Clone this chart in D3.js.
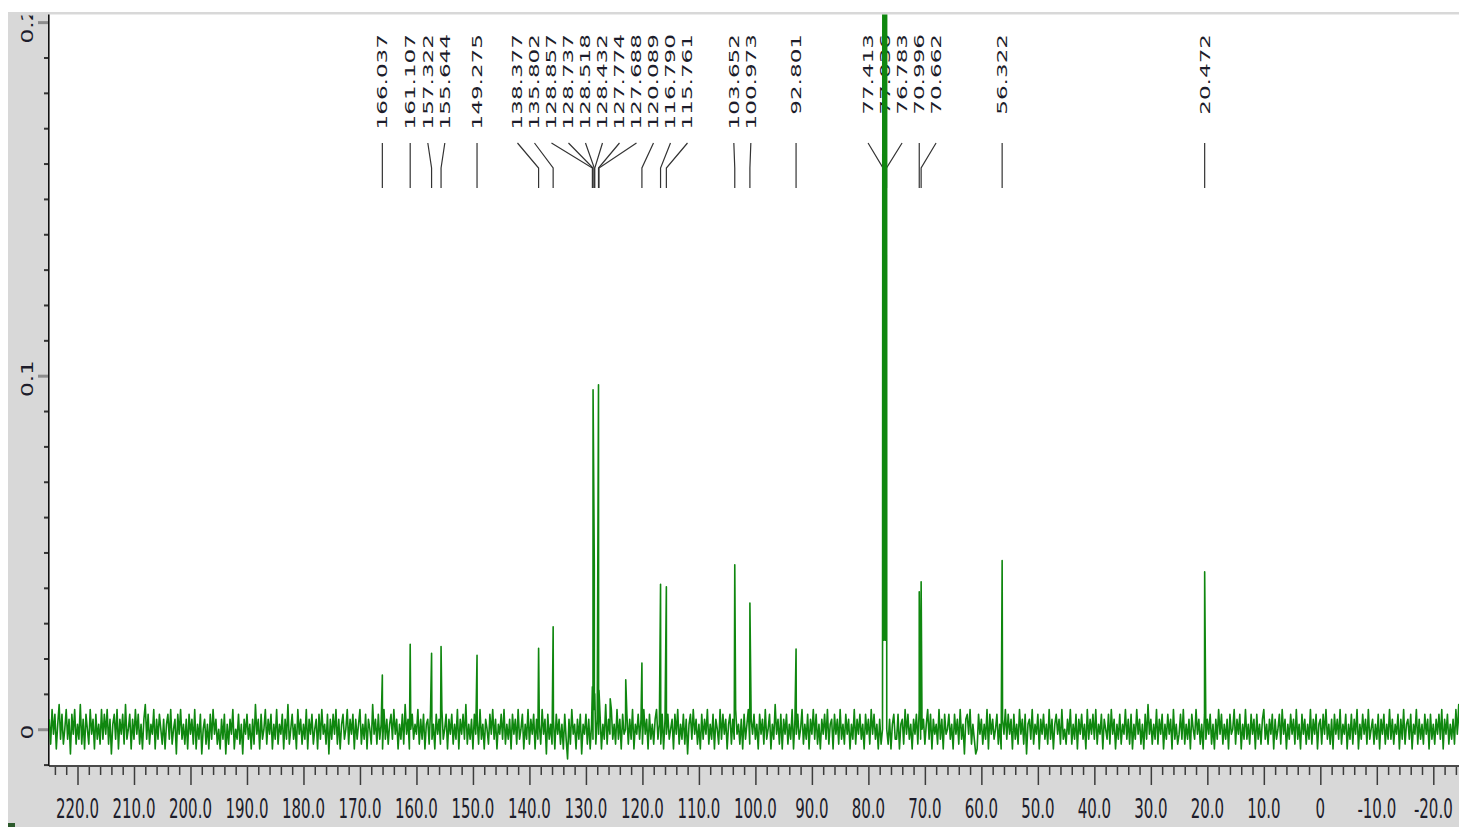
<!DOCTYPE html>
<html>
<head>
<meta charset="utf-8">
<script src="https://cdn.jsdelivr.net/npm/d3@7"></script>
<style>
  html, body { margin: 0; padding: 0; background: #ffffff; }
  svg { display: block; }
</style>
</head>
<body>
<svg id="chart" width="1459" height="827"></svg>
<script>
// 13C NMR trace, sampled every 0.25 ppm from 225 ppm downwards, stored as integer counts
const traceStart = 225.0;
const traceStep = 0.25;
const traceUnit = 0.0014; // intensity per count

// 225 -> 175.25 ppm
const trace225 = [
  2,-3,4,-1,3,-4,1,5,-2,3,-3,0,4,-2,2,-5,3,-1,4,-3,
  1,-2,5,-3,2,-4,3,0,-3,4,-1,2,-4,3,-2,1,-3,4,-2,3,
  -1,4,-3,2,-5,1,3,-2,4,-4,2,-1,3,-3,5,-2,0,3,-4,2,
  -2,4,-1,3,-3,1,-4,2,5,-2,3,-3,1,-1,4,-4,2,-2,3,0,
  -3,2,-4,1,3,-2,4,-3,0,2,-5,3,-1,4,-2,1,-3,2,-4,3,
  -1,2,-3,4,-4,1,-2,3,-5,0,2,-3,1,-4,3,-2,4,-1,2,-3,
  0,-4,2,-2,3,-5,1,-3,2,-1,4,-4,0,-2,3,-3,1,-5,2,-1,
  3,-2,1,-4,2,-3,5,-1,2,-4,3,-2,0,4,-3,2,-1,3,-4,1,
  -2,4,-3,1,-1,3,-4,2,-2,5,-3,0,3,-2,1,-4,4,-1,2,-3,
  1,-2,4,-4,2,-1,3,-3,0,2,-4,3,-2,4,-1,1,-3,3,-5,2
];
// 175 -> 125.25 ppm
const trace175 = [
  -2,3,-1,4,-3,2,-4,1,3,-2,0,4,-3,2,-1,3,-4,2,-2,1,
  4,-3,1,-2,3,-4,2,0,-3,5,-1,2,-3,3,-2,1,-4,4,-2,2,
  -3,1,3,-2,4,-1,2,-4,1,-2,3,-3,5,-1,2,-4,0,3,-2,1,
  -1,4,-3,2,-2,3,-4,1,2,-3,4,-2,1,-4,3,-1,2,-3,4,-2,
  0,3,-4,2,-1,3,-3,1,-2,4,-4,2,-1,3,-2,5,-3,1,-2,2,
  -4,3,-1,2,-3,4,-2,1,-4,2,0,-3,3,-1,4,-2,2,-4,1,-1,
  3,-2,4,-3,1,-2,2,-4,3,-1,2,-3,4,-2,0,3,-4,1,-2,4,
  -3,2,-1,3,-4,2,-2,1,-3,4,-1,2,-5,3,-2,1,-3,2,-4,3,
  -1,2,-3,1,-4,3,-2,-6,2,-3,4,-1,1,-4,2,-2,3,-5,1,-1,
  3,-3,2,-4,1,-2,4,-3,2,-1,3,-4,1,-2,5,-3,2,-1,4,-2
];
// 125 -> 75.25 ppm (CDCl3 triplet valleys near 77 ppm)
const trace125 = [
  1,-3,4,-2,2,-4,3,-1,0,3,-3,2,-2,4,-4,1,-1,3,-2,2,
  -3,4,-1,2,-4,3,-2,1,-3,2,4,-2,1,-3,3,-4,2,-1,3,-2,
  0,2,-4,3,-1,4,-3,1,-2,3,-3,2,-5,1,3,-2,4,-1,2,-3,
  1,-4,3,-2,2,-1,4,-3,1,-2,3,-4,2,0,-3,4,-2,3,-1,2,
  -4,1,3,-3,2,-2,4,-1,1,-3,2,-4,3,-2,1,4,-3,2,-1,3,
  -2,1,-4,3,-1,2,-3,4,-2,0,3,-4,1,-2,5,-1,2,-3,3,-4,
  2,-1,3,-3,1,-2,4,-4,2,-1,3,-2,0,4,-3,1,-2,3,-4,2,
  -1,4,-2,3,-3,1,-4,2,-1,3,-2,4,-3,1,2,-4,3,-1,2,-3,
  4,-2,1,-3,3,-1,2,-4,1,-2,4,-3,2,-1,3,-2,1,-4,3,-1,
  2,-3,4,-1,3,-2,1,-4,2,-3,0,18,18,0,-3,2,-4,1,3,-2
];
// 75 -> 25.25 ppm
const trace75 = [
  -2,3,-4,1,2,-3,4,-1,3,-2,1,-4,2,-1,3,-3,4,-2,0,2,
  -3,1,4,-2,3,-4,2,-1,1,-3,4,-2,2,-4,3,-1,0,3,-2,1,
  -4,3,-1,2,-3,4,-2,1,-5,2,3,-1,4,-3,1,-2,-5,-4,3,-1,
  2,-3,1,-2,4,-4,3,-1,2,-2,0,3,-3,1,-4,2,-1,4,-2,3,
  -1,2,-4,3,-2,1,-3,4,-1,2,-3,3,-5,1,2,-2,4,-3,1,-1,
  3,-4,2,-1,3,-2,1,-3,4,-2,2,-4,1,3,-1,2,-3,4,-2,0,
  -3,2,-1,4,-3,1,-2,3,-4,2,-1,3,-2,1,-4,4,-2,2,-1,3,
  -2,4,-3,1,-1,3,-4,2,0,-2,3,-3,4,-1,2,-4,1,-2,3,-3,
  1,-1,4,-2,2,-3,3,-4,1,-2,4,-1,2,-3,1,-4,3,-2,5,-1,
  2,-3,1,-2,4,-3,2,-1,3,-4,1,-2,3,-1,2,-4,4,-2,1,-3
];
// 25 -> -24.75 ppm
const trace25 = [
  -1,3,-2,4,-3,1,-2,2,-4,3,0,-2,4,-1,2,-3,1,-4,3,-2,
  2,-1,3,-3,1,-4,2,-2,4,-1,3,-3,1,-2,2,-4,3,-1,0,4,
  -3,2,-1,3,-4,1,-2,4,-2,1,-3,3,-1,2,-4,3,-2,1,-3,2,
  4,-2,1,-3,2,-1,3,-4,2,-2,0,3,-3,4,-1,2,-4,1,-2,3,
  -1,2,-3,4,-2,1,-4,3,-1,2,-3,1,-2,4,-3,2,-1,3,-4,1,
  2,-3,3,-1,4,-2,1,-3,2,-4,3,-1,2,-2,4,-3,1,-1,3,-4,
  1,-2,3,-3,2,-1,4,-4,1,-2,3,-1,2,-3,4,-2,0,2,-3,1,
  -2,3,-4,2,-1,3,-3,1,-2,4,-2,2,-3,1,-1,3,-4,2,-2,4,
  -3,1,2,-2,3,-4,1,-1,4,-3,2,-2,1,-3,3,-1,2,-4,3,-2,
  1,-3,2,-1,3,-2,4,-4,2,-1,3,-3,1,-2,2,-3,4,-1,5,-2
];

// Picked peaks (ppm) and their intensities
const labelPpm = [166.037, 161.107, 157.322, 155.644, 149.275, 138.377, 135.802,
  128.857, 128.737, 128.518, 128.432, 127.774, 127.688, 120.089, 116.790, 115.761,
  103.652, 100.973, 92.801, 77.413, 77.036, 76.783, 70.996, 70.662, 56.322, 20.472];
const labelVal = [0.0153, 0.0240, 0.0215, 0.0234, 0.0209, 0.0229, 0.0290,
  0.0120, 0.0960, 0.0465, 0.0100, 0.0974, 0.0110, 0.0187, 0.0410, 0.0403,
  0.0465, 0.0357, 0.0227, 0.3000, 0.3000, 0.3000, 0.0389, 0.0417, 0.0477, 0.0445];

// Small peaks that carry no label
const minorPeakPpm = [125.70, 122.95];
const minorPeakVal = [0.0086, 0.0140];

// Axis ticks
const xMajorTicks = [220, 210, 200, 190, 180, 170, 160, 150, 140, 130, 120, 110,
  100, 90, 80, 70, 60, 50, 40, 30, 20, 10, 0, -10, -20];
const yMajorTicks = [0, 0.1, 0.2];
const yTickText = ["0", "0.1", "0.2"];

const svg = d3.select("#chart");
const W = 1459, H = 827;
const plot = { left: 49, right: 1459, top: 14.5, bottom: 766 };
const green = "#0f870f";
const font = "'DejaVu Sans', Verdana, sans-serif";

const x = d3.scaleLinear().domain([220, -20]).range([77.5, 1433.3]);
const y = d3.scaleLinear().domain([-0.0104, 0.2023]).range([766, 14]);

// frame
svg.append("rect").attr("x", 0).attr("y", 0).attr("width", W).attr("height", H).attr("fill", "#ffffff");
svg.append("rect").attr("x", 8).attr("y", 12).attr("width", W - 8).attr("height", H - 12).attr("fill", "#d8d8d8");
svg.append("rect").attr("x", plot.left).attr("y", plot.top)
  .attr("width", plot.right - plot.left).attr("height", plot.bottom - plot.top).attr("fill", "#ffffff");
svg.append("rect").attr("x", 8).attr("y", 823).attr("width", 7).attr("height", 4).attr("fill", "#2c5a2c");

const defs = svg.append("defs");
defs.append("clipPath").attr("id", "plotClip").append("rect")
  .attr("x", plot.left).attr("y", plot.top)
  .attr("width", plot.right - plot.left).attr("height", plot.bottom - plot.top);
defs.append("clipPath").attr("id", "yLabelClip").append("rect")
  .attr("x", 0).attr("y", 15.5).attr("width", plot.left).attr("height", H);

// bottom axis: minor ticks every 2 ppm, major every 10 ppm
const minorX = d3.range(224, -25, -2).filter(v => v % 10 !== 0);
const xAxisMinor = svg.append("g").attr("transform", `translate(0,${plot.bottom})`)
  .call(d3.axisBottom(x).tickValues(minorX).tickSize(9).tickFormat(""));
const xAxisMajor = svg.append("g").attr("transform", `translate(0,${plot.bottom})`)
  .call(d3.axisBottom(x).tickValues(xMajorTicks).tickSize(19).tickFormat(""));
[xAxisMinor, xAxisMajor].forEach(g => {
  g.select(".domain").remove();
  g.selectAll(".tick line").attr("stroke", "#3c3c3c").attr("stroke-width", 1.5);
});
svg.append("line").attr("x1", plot.left).attr("x2", plot.right)
  .attr("y1", plot.bottom).attr("y2", plot.bottom)
  .attr("stroke", "#4a4a4a").attr("stroke-width", 2);

svg.append("g").selectAll("text").data(xMajorTicks).join("text")
  .attr("transform", d => `translate(${x(d)},809) scale(1,1.8)`)
  .attr("text-anchor", "middle").attr("dy", "0.35em")
  .attr("font-family", font).attr("font-size", 15).attr("fill", "#1d1d2b")
  .text(d => d === 0 ? "0" : d.toFixed(1));

// left axis
const minorY = d3.range(-1, 21).filter(i => i % 10 !== 0).map(i => i / 100);
const yAxisMinor = svg.append("g").attr("transform", `translate(${plot.left},0)`)
  .call(d3.axisLeft(y).tickValues(minorY).tickSize(5).tickFormat(""));
const yAxisMajor = svg.append("g").attr("transform", `translate(${plot.left},0)`)
  .call(d3.axisLeft(y).tickValues(yMajorTicks).tickSize(11).tickFormat(""));
yAxisMinor.select(".domain").remove();
yAxisMajor.select(".domain").remove();
yAxisMinor.selectAll(".tick line").attr("stroke", "#333").attr("stroke-width", 2);
yAxisMajor.selectAll(".tick line").attr("stroke", "#8c8c8c").attr("stroke-width", 3);
svg.append("line").attr("x1", 48.8).attr("x2", 48.8)
  .attr("y1", plot.top).attr("y2", plot.bottom)
  .attr("stroke", "#111").attr("stroke-width", 1.6);

svg.append("g").attr("clip-path", "url(#yLabelClip)")
  .selectAll("text").data(yMajorTicks).join("text")
  .attr("transform", d => `translate(27,${y(d) + 3}) scale(1,1.45) rotate(-90)`)
  .attr("text-anchor", "middle").attr("dy", "0.35em")
  .attr("font-family", font).attr("font-size", 16).attr("fill", "#1d1d2b")
  .text((d, i) => yTickText[i]);

// peak labels: spread overlapping labels into centred clusters
const labelGap = 17;
const peakXs = labelPpm.map(p => x(p));
const order = d3.range(labelPpm.length).sort((a, b) => peakXs[a] - peakXs[b]);
let clusters = order.map(i => ({ lo: peakXs[i], hi: peakXs[i], items: [i] }));
const placeCluster = c => { c.start = (c.lo + c.hi) / 2 - (c.items.length - 1) * labelGap / 2; };
clusters.forEach(placeCluster);
let merged = true;
while (merged) {
  merged = false;
  for (let k = 0; k < clusters.length - 1; k++) {
    const a = clusters[k], b = clusters[k + 1];
    const aEnd = a.start + (a.items.length - 1) * labelGap;
    if (b.start - aEnd < labelGap - 1e-6) {
      const m = { lo: a.lo, hi: b.hi, items: a.items.concat(b.items) };
      placeCluster(m);
      clusters.splice(k, 2, m);
      merged = true;
      break;
    }
  }
}
const labelX = new Array(labelPpm.length);
clusters.forEach(c => c.items.forEach((i, j) => { labelX[i] = c.start + j * labelGap; }));

const labels = labelPpm.map((p, i) => ({ ppm: p, px: peakXs[i], lx: labelX[i] }));
const leaderTop = 143, leaderBend = 168, leaderBottom = 188;

svg.append("g").selectAll("path").data(labels).join("path")
  .attr("d", d => Math.abs(d.lx - d.px) < 0.5
    ? `M${d.px},${leaderTop}L${d.px},${leaderBottom}`
    : `M${d.lx},${leaderTop}L${d.px},${leaderBend}L${d.px},${leaderBottom}`)
  .attr("fill", "none").attr("stroke", "#333").attr("stroke-width", 1.2);

svg.append("g").selectAll("text").data(labels).join("text")
  .attr("transform", d => `translate(${d.lx},34) scale(1,1.65) rotate(-90)`)
  .attr("text-anchor", "end").attr("dy", "0.35em")
  .attr("font-family", font).attr("font-size", 14).attr("fill", "#1d1d2b")
  .text(d => d.ppm.toFixed(3));

// spectrum: sampled trace merged with the peak maxima
const traceVals = [].concat(trace225, trace175, trace125, trace75, trace25);
const points = traceVals.map((v, i) => ({ ppm: traceStart - i * traceStep, val: v * traceUnit }))
  .concat(labelPpm.map((p, i) => ({ ppm: p, val: labelVal[i] })))
  .concat(minorPeakPpm.map((p, i) => ({ ppm: p, val: minorPeakVal[i] })))
  .sort((a, b) => b.ppm - a.ppm);

const line = d3.line().x(d => x(d.ppm)).y(d => y(d.val));
svg.append("g").attr("clip-path", "url(#plotClip)")
  .append("path").datum(points)
  .attr("d", line)
  .attr("fill", "none").attr("stroke", green).attr("stroke-width", 1.6)
  .attr("stroke-linejoin", "round");
</script>
</body>
</html>
